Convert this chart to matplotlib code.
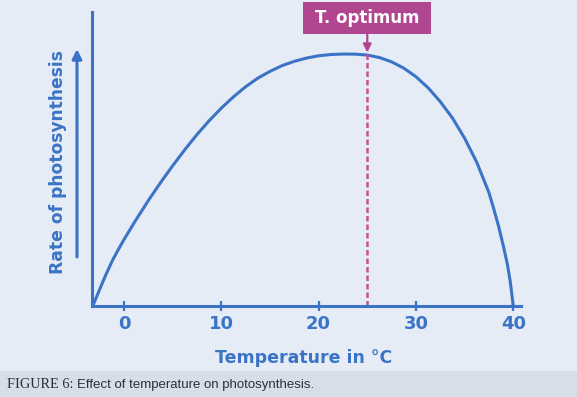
import matplotlib.pyplot as plt
from matplotlib.patches import Rectangle

# values (rate is relative, peak ~ 100)
temperature = [-3.2, -2.5, -1.9, -1.2, -0.6, 0, 1.13, 2.5, 3.75, 5, 6.25, 7.5, 8.75,
               10, 11.25, 12.5, 13.75, 15, 16.25, 17.5, 18.75, 20, 21.25, 22.5, 23.75,
               25, 26.25, 27.5, 28.75, 30, 31.25, 32.5, 33.75, 35, 36.25, 37.5, 38,
               38.5, 39, 39.4, 39.7, 40]
rate = [0, 6.5, 12, 17.9, 22.2, 26.3, 33.5, 41.8, 48.9, 55.6, 62.0, 68.0, 73.5,
        78.5, 83.0, 87.0, 90.4, 93.1, 95.4, 97.1, 98.4, 99.3, 99.8, 100, 99.95,
        99.6, 98.6, 96.9, 94.4, 91.0, 86.6, 81.1, 74.6, 66.6, 57, 45, 38.5,
        31.5, 23.5, 16.5, 9.5, 0]
ticks = [0, 10, 20, 30, 40]
t_optimum = 25

blue = '#3b74c6'
magenta = '#b0468f'
pink = '#c8519e'
bg = '#e5ecf6'

fig = plt.figure(figsize=(5.77, 3.97), dpi=100, facecolor=bg)
ax = fig.add_axes([92 / 577, 91.3 / 397, 429 / 577, 293.7 / 397])
ax.set_facecolor(bg)
ax.set_xlim(-3.29, 40.8)
ax.set_ylim(0, 116.7)

for side in ['top', 'right']:
    ax.spines[side].set_visible(False)
for side in ['left', 'bottom']:
    ax.spines[side].set_color(blue)
    ax.spines[side].set_linewidth(2.2)

# the curve
ax.plot(temperature, rate, color=blue, lw=2.2, solid_capstyle='round',
        solid_joinstyle='round', clip_on=False)

# optimum marker
ax.vlines(t_optimum, 0, 100, colors=pink, linestyles=(0, (2.2, 1.2)), lw=1.8)
ax.add_patch(Rectangle((t_optimum - 6.58, 108), 13.16, 12.7, facecolor=magenta,
                       edgecolor='none', clip_on=False))
ax.text(t_optimum, 114.3, 'T. optimum', color='white', fontsize=12, fontweight='bold',
        ha='center', va='center')
ax.annotate('', xy=(t_optimum, 100.6), xytext=(t_optimum, 108),
            arrowprops=dict(arrowstyle='-|>', color=magenta, lw=1.6, mutation_scale=12,
                            shrinkA=0, shrinkB=0), annotation_clip=False)

# ticks
ax.set_xticks(ticks, labels=[str(t) for t in ticks], fontweight='bold')
ax.set_yticks([])
ax.tick_params(axis='x', direction='inout', length=7.2, width=1.6, color=blue,
               labelcolor=blue, labelsize=13, pad=3)

# labels
ax.set_xlabel('Temperature in °C', color=blue, fontsize=12.5, fontweight='bold', va='baseline')
ax.xaxis.set_label_coords(0.493, -0.196)
ax.set_ylabel('Rate of photosynthesis', color=blue, fontsize=12.3, fontweight='bold', va='center')
ax.yaxis.set_label_coords(-0.079, 0.49)
ax.annotate('', xy=(-0.035, 0.874), xytext=(-0.035, 0.166), xycoords='axes fraction',
            arrowprops=dict(arrowstyle='-|>', color=blue, lw=2.2, mutation_scale=14,
                            shrinkA=0, shrinkB=0), annotation_clip=False)

# caption band
fig.patches.append(Rectangle((0, 0), 1, 26.3 / 397, transform=fig.transFigure,
                             facecolor='#d7dee9', edgecolor='none', zorder=0))
t1 = fig.text(7 / 577, 9 / 397, 'FIGURE 6:', family='Liberation Serif', fontsize=10.3,
              color='#2b2f3d', va='baseline')
fig.canvas.draw()
x_next = t1.get_window_extent().x1 + 4
fig.text(x_next / 577, 9 / 397, 'Effect of temperature on photosynthesis.',
         family='Liberation Sans', fontsize=9.5, color='#2b2f3d', va='baseline')

fig.savefig('out.png', dpi=100, facecolor=bg)
